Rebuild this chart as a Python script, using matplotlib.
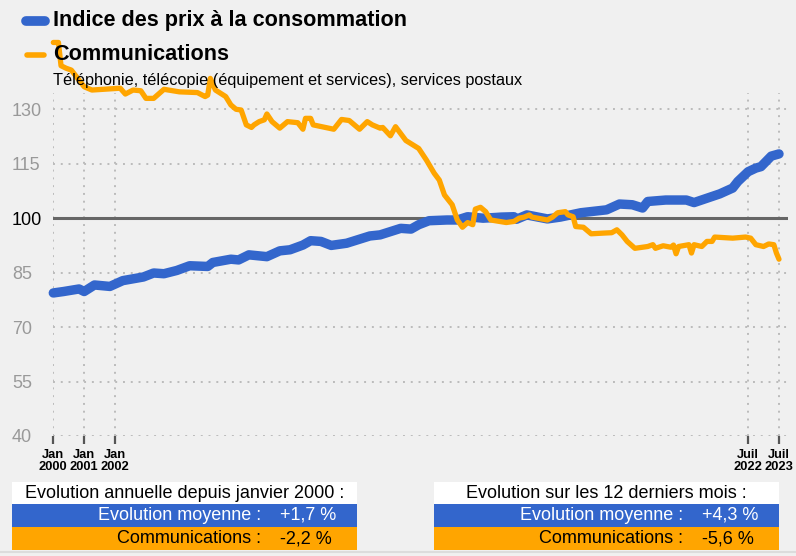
import matplotlib
matplotlib.use("Agg")
from matplotlib import pyplot as plt
from matplotlib.patches import Rectangle
from matplotlib.lines import Line2D

plt.rcParams["font.family"] = ["Liberation Sans", "DejaVu Sans"]

# months since Jan 2000 (base 100)
cpi_months = [0, 4, 10, 12, 16, 22, 27, 35, 39, 43, 48, 53, 60, 62, 69, 72, 76, 83, 88, 92,
              97, 100, 104, 108, 114, 123, 127, 135, 139, 142, 146, 153, 157, 161, 167, 172,
              174, 179, 180, 184, 192, 197, 205, 215, 220, 225, 229, 231, 238, 246, 249, 254,
              259, 264, 266, 270, 273, 275, 279, 282]
cpi_values = [79.4, 79.8, 80.5, 79.8, 81.6, 81.2, 82.8, 83.8, 84.9, 84.7, 85.6, 86.9, 86.7, 87.8,
              88.7, 88.5, 89.9, 89.4, 91.0, 91.3, 92.6, 93.8, 93.6, 92.5, 93.1, 95.1, 95.4, 97.2,
              97.0, 98.2, 99.3, 99.5, 99.5, 100.4, 100.0, 100.2, 100.3, 100.4, 99.7, 100.9, 99.8,
              100.3, 101.5, 102.3, 103.9, 103.7, 102.8, 104.6, 105.0, 105.0, 104.3, 105.5, 106.7,
              108.3, 110.1, 112.8, 113.8, 114.2, 117.1, 117.7]

com_months = [0, 2, 3, 5, 7, 12, 15, 26, 28, 31, 34, 36, 39, 43, 49, 56, 59, 60, 61, 63, 65, 67,
              69, 71, 73, 75, 77, 78, 80, 82, 83, 85, 88, 91, 95, 97, 98, 100, 101, 109, 112, 115,
              119, 122, 124, 127, 128, 131, 133, 137, 142, 145, 148, 150, 152, 154, 155, 157, 159,
              161, 163, 164, 166, 168, 170, 176, 179, 181, 183, 185, 186, 192, 194, 196, 199, 200,
              202, 203, 206, 209, 214, 217, 219, 221, 223, 226, 231, 233, 234, 237, 240, 241, 242,
              243, 247, 248, 249, 252, 254, 256, 257, 264, 269, 271, 273, 276, 278, 280, 281, 282]
com_values = [148.4, 148.4, 142.0, 141.3, 140.8, 136.2, 135.3, 135.8, 134.2, 135.3, 135.1, 133.0,
              133.0, 135.5, 134.8, 134.6, 133.5, 133.9, 138.5, 135.3, 134.4, 133.5, 131.2, 130.0,
              129.8, 125.7, 125.0, 125.7, 126.6, 127.1, 128.7, 126.6, 124.8, 126.6, 126.3, 124.5,
              127.5, 127.5, 125.7, 124.5, 127.2, 126.9, 124.5, 126.6, 125.7, 124.8, 125.0, 122.7,
              125.2, 121.4, 119.2, 116.0, 112.4, 110.5, 106.4, 104.6, 103.7, 99.5, 97.5, 98.8,
              98.2, 102.5, 103.0, 101.8, 99.5, 98.8, 99.1, 100.0, 100.3, 100.9, 100.3, 99.5, 100.3,
              101.5, 101.8, 100.9, 100.4, 97.7, 97.5, 95.7, 95.9, 96.0, 96.8, 95.4, 93.6, 91.7,
              92.2, 92.7, 91.7, 92.4, 92.0, 92.6, 90.2, 92.2, 92.7, 90.4, 92.7, 92.2, 93.6, 93.6,
              94.8, 94.5, 94.8, 94.5, 92.7, 92.2, 92.9, 92.7, 90.4, 88.7]

tick_months = [0, 12, 24, 270, 282]
tick_labels = ["Jan\n2000", "Jan\n2001", "Jan\n2002", "Juil\n2022", "Juil\n2023"]
y_ticks = [40, 55, 70, 85, 100, 115, 130]

BLUE = "#3366cc"
ORANGE = "#ffa500"
BG = "#f0f0f0"
W, H = 796, 556


def fx(x):
    return x / W


def fy(y):
    return 1 - y / H


fig = plt.figure(figsize=(W / 100, H / 100), dpi=100, facecolor=BG)
ax = fig.add_axes([fx(53.3), fy(436), fx(788) - fx(53.3), fy(93.3) - fy(436)])
ax.set_facecolor(BG)
for s in ax.spines.values():
    s.set_visible(False)

ax.set_xlim(0, 285.5)
ax.set_ylim(40, 134.4)
ax.set_xticks(tick_months)
ax.set_xticklabels(tick_labels, fontsize=9.3, fontweight="bold", linespacing=1.05)
ax.set_yticks(y_ticks)
ax.set_yticklabels([str(v) for v in y_ticks], fontsize=13, ha="left")
for lab, v in zip(ax.get_yticklabels(), y_ticks):
    lab.set_color("black" if v == 100 else "#999999")
ax.tick_params(axis="y", length=0, pad=29.8)
ax.tick_params(axis="x", length=6, width=1.6, color="#555555", pad=3)
ax.grid(True, color="#bbbbbb", linestyle=(0, (1, 3)), linewidth=1.4)
ax.set_axisbelow(True)

ax.axhline(100, color="#666666", linewidth=2.2, zorder=2)
ax.plot(cpi_months, cpi_values, color=BLUE, linewidth=6.8, solid_capstyle="round",
        solid_joinstyle="round", zorder=3, clip_on=False)
ax.plot(com_months, com_values, color=ORANGE, linewidth=3.8, solid_capstyle="round",
        solid_joinstyle="round", zorder=4, clip_on=False)

# legend / titles
fig.add_artist(Line2D([fx(26), fx(45)], [fy(20.5), fy(20.5)], color=BLUE, linewidth=7,
                      solid_capstyle="round"))
fig.add_artist(Line2D([fx(27), fx(44)], [fy(55), fy(55)], color=ORANGE, linewidth=4,
                      solid_capstyle="round"))
fig.text(fx(53), fy(20.5), "Indice des prix à la consommation", fontsize=15.6,
         fontweight="bold", va="center", ha="left")
fig.text(fx(53), fy(55), "Communications", fontsize=15.6, fontweight="bold",
         va="center", ha="left")
fig.text(fx(53), fy(80), "Téléphonie, télécopie (équipement et services), services postaux",
         fontsize=11.7, va="center", ha="left")

# summary boxes
boxes = [
    (12, 357, 261, 280, "Evolution annuelle depuis janvier 2000 :", "+1,7 %", "-2,2 %"),
    (434, 779, 683.3, 701.7, "Evolution sur les 12 derniers mois :", "+4,3 %", "-5,6 %"),
]
for x0, x1, xr, xv, head, v_cpi, v_com in boxes:
    rows = [(481.7, 504, "white"), (504, 526.7, BLUE), (526.7, 549.7, ORANGE)]
    for top, bot, col in rows:
        fig.add_artist(Rectangle((fx(x0), fy(bot)), fx(x1) - fx(x0), fy(top) - fy(bot),
                                 facecolor=col, edgecolor="none"))
    fig.text(fx((x0 + x1) / 2), fy(493), head, fontsize=13, ha="center", va="center")
    fig.text(fx(xr), fy(515.5), "Evolution moyenne :", fontsize=13, ha="right",
             va="center", color="white")
    fig.text(fx(xv), fy(515.5), v_cpi, fontsize=13, ha="left", va="center", color="white")
    fig.text(fx(xr), fy(538.5), "Communications :", fontsize=13, ha="right", va="center")
    fig.text(fx(xv), fy(538.5), v_com, fontsize=13, ha="left", va="center")

fig.add_artist(Line2D([0, 1], [fy(552), fy(552)], color="#dcdcdc", linewidth=1.5))

fig.savefig("out.png", dpi=100, facecolor=BG)
